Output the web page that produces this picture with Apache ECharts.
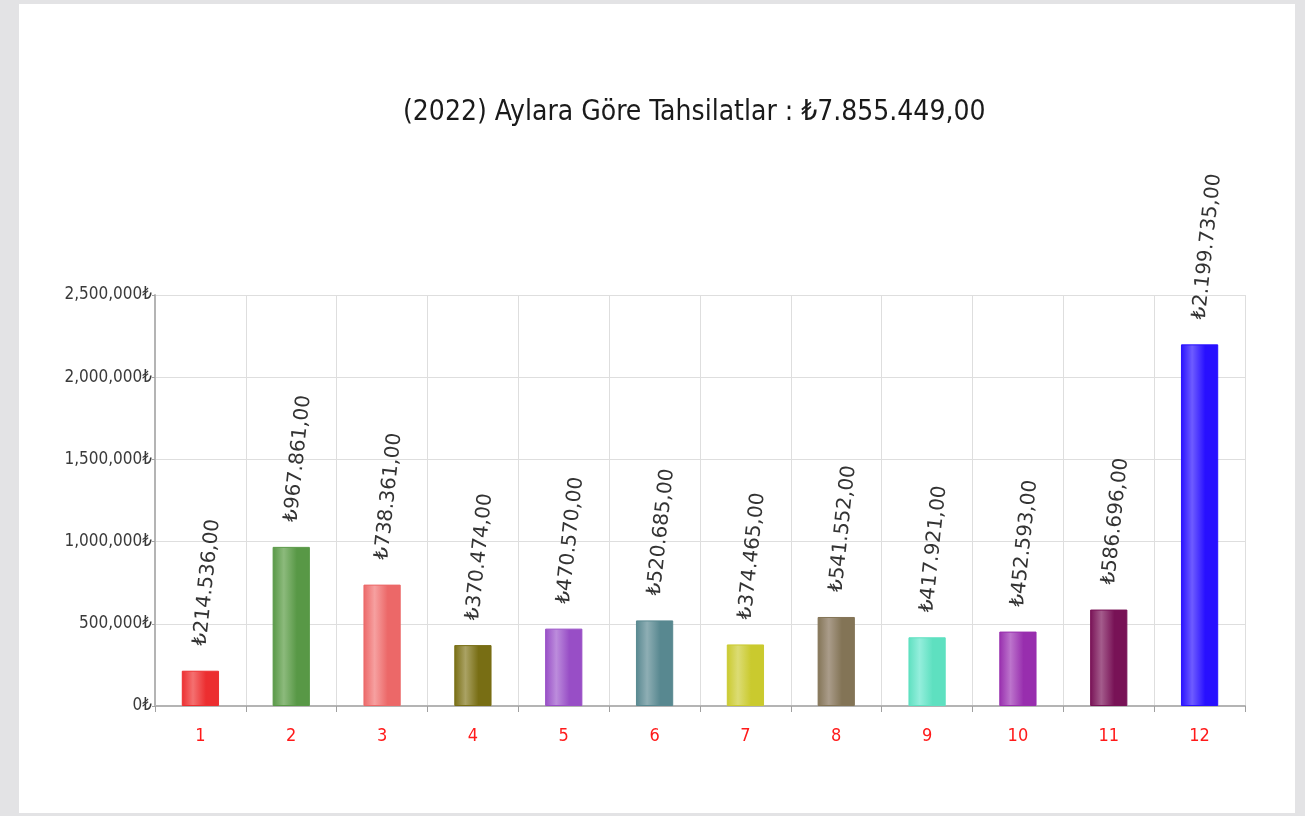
<!DOCTYPE html>
<html>
<head>
<meta charset="utf-8">
<script src="https://cdn.jsdelivr.net/npm/echarts@6/dist/echarts.min.js"></script>
<style>
  html, body { margin: 0; padding: 0; background: #fff; }
  #main { width: 1305px; height: 816px; }
</style>
</head>
<body>
<div id="main"></div>
<script>
var chart = echarts.init(document.getElementById('main'));

// aylar (1..12) ve tahsilat tutarlari
var aylar = ['1', '2', '3', '4', '5', '6', '7', '8', '9', '10', '11', '12'];
var tahsilatlar = [214536, 967861, 738361, 370474, 470570, 520685, 374465, 541552, 417921, 452593, 586696, 2199735];
var yilEtiket = '2022';
// her bar icin [koyu, acik] renk
var renkler = [
  ['#ec2e30', '#f47070'],
  ['#589846', '#8cba7c'],
  ['#ec6868', '#f6a0a0'],
  ['#786e14', '#aaa264'],
  ['#984ec6', '#bc8cdc'],
  ['#588890', '#8eaeb4'],
  ['#caca2e', '#dcdc74'],
  ['#837456', '#aa9c8a'],
  ['#5ee0c0', '#94eedc'],
  ['#982eae', '#bc74cc'],
  ['#781256', '#a45c8c'],
  ['#2810ff', '#6e5cff']
];

var condensed = '"DejaVu Sans Condensed", "DejaVu Sans", sans-serif';

function tlFormat(v) {
  // 214536 -> ₺214.536,00
  var s = String(Math.round(v)).replace(/\B(?=(\d{3})+(?!\d))/g, '.');
  return '\u20BA' + s + ',00';
}

var toplam = 0;
for (var i = 0; i < tahsilatlar.length; i++) {
  toplam += tahsilatlar[i];
}

var barData = tahsilatlar.map(function (v, i) {
  var c = renkler[i];
  return {
    value: v,
    itemStyle: {
      color: new echarts.graphic.LinearGradient(0, 0, 1, 0, [
        { offset: 0, color: c[0] },
        { offset: 0.3, color: c[1] },
        { offset: 0.65, color: c[0] },
        { offset: 1, color: c[0] }
      ]),
      borderColor: c[0],
      borderWidth: 1
    }
  };
});

var option = {
  backgroundColor: '#e3e3e5',
  animation: false,
  graphic: [
    {
      type: 'rect',
      z: -10,
      shape: { x: 19, y: 4, width: 1276, height: 809 },
      style: { fill: '#ffffff' }
    }
  ],
  title: {
    text: '(' + yilEtiket + ') Aylara Göre Tahsilatlar : ' + tlFormat(toplam),
    left: 398,
    top: 94,
    textStyle: {
      fontFamily: condensed,
      fontSize: 28,
      fontWeight: 'normal',
      color: '#1a1a1a'
    }
  },
  grid: {
    left: 155,
    right: 60,
    top: 295,
    bottom: 110
  },
  xAxis: {
    type: 'category',
    data: aylar,
    boundaryGap: true,
    axisLine: { lineStyle: { color: '#b4b4b4', width: 2 } },
    axisTick: { show: true, length: 6, lineStyle: { color: '#a0a0a0' } },
    axisLabel: {
      color: '#ff1a1a',
      fontFamily: condensed,
      fontSize: 18,
      margin: 21
    },
    splitLine: { show: true, lineStyle: { color: '#dedede', width: 1 } }
  },
  yAxis: {
    type: 'value',
    min: 0,
    max: 2500000,
    interval: 500000,
    axisLine: { show: true, lineStyle: { color: '#b4b4b4', width: 2 } },
    axisTick: { show: true, length: 3, lineStyle: { color: '#a0a0a0' } },
    axisLabel: {
      color: '#3a3a3a',
      fontFamily: condensed,
      fontSize: 17,
      margin: 3,
      formatter: function (v) {
        return String(v).replace(/\B(?=(\d{3})+(?!\d))/g, ',') + '\u20BA';
      }
    },
    splitLine: { show: true, lineStyle: { color: '#dedede', width: 1 } }
  },
  series: [
    {
      type: 'bar',
      data: barData,
      barWidth: '41%',
      label: {
        show: true,
        position: 'top',
        rotate: 84,
        align: 'left',
        verticalAlign: 'middle',
        distance: 25,
        color: '#333',
        fontFamily: '"DejaVu Sans", sans-serif',
        fontSize: 20,
        formatter: function (p) {
          return tlFormat(p.value);
        }
      }
    }
  ]
};

chart.setOption(option);
</script>
</body>
</html>
